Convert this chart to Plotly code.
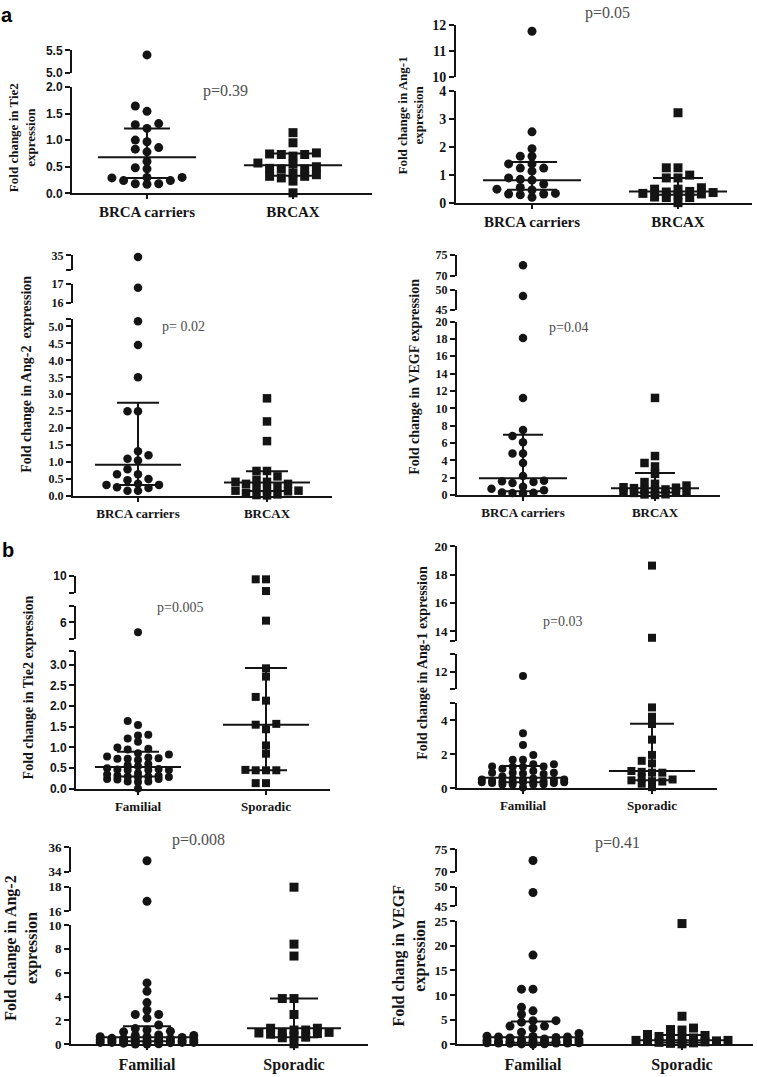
import plotly.graph_objects as go

W, H = 757, 1077

# ---------------- data ----------------
categories_a = ["BRCA carriers", "BRCAX"]
categories_b = ["Familial", "Sporadic"]

tie2_carriers = [5.4, 1.64, 1.54, 1.31, 1.29, 1.22, 1.0, 0.97, 0.86, 0.83, 0.78, 0.6,
                 0.48, 0.46, 0.3, 0.3, 0.29, 0.24, 0.24, 0.18, 0.18, 0.17]
tie2_brcax = [1.14, 0.95, 0.76, 0.74, 0.73, 0.73, 0.7, 0.57, 0.55, 0.5, 0.47, 0.46,
              0.46, 0.38, 0.35, 0.32, 0.32, 0.29, 0.23, 0.01]
ang1_carriers = [11.75, 2.54, 1.94, 1.67, 1.67, 1.4, 1.4, 1.25, 1.25, 1.14, 0.9, 0.85,
                 0.82, 0.68, 0.56, 0.5, 0.47, 0.35, 0.33, 0.33, 0.3, 0.21]
ang1_brcax = [3.22, 1.26, 1.26, 1.0, 0.9, 0.9, 0.55, 0.5, 0.5, 0.42, 0.4, 0.38, 0.35,
              0.33, 0.3, 0.22, 0.2, 0.2, 0.02]
ang2_carriers = [34.9, 16.8, 5.15, 4.45, 3.5, 2.5, 2.5, 1.32, 1.2, 1.1, 1.05, 0.79, 0.64,
                 0.64, 0.5, 0.47, 0.36, 0.33, 0.33, 0.26, 0.24, 0.16, 0.16]
ang2_brcax = [2.88, 2.2, 1.62, 0.74, 0.74, 0.58, 0.48, 0.42, 0.42, 0.36, 0.36, 0.28, 0.28,
              0.18, 0.16, 0.16, 0.14, 0.1, 0.05, 0.03, 0.02]
vegf_carriers = [72.5, 48.5, 18.1, 11.2, 7.5, 6.8, 6.1, 4.8, 4.8, 3.7, 2.2, 1.65, 1.6, 1.5,
                 1.4, 0.95, 0.72, 0.57, 0.3, 0.27, 0.25, 0.2]
vegf_brcax = [11.2, 4.5, 3.7, 3.3, 2.45, 1.5, 1.3, 1.1, 0.9, 0.85, 0.8, 0.65, 0.6, 0.5,
              0.35, 0.3, 0.3, 0.25, 0.1, 0.08, 0.02]

# familial = BRCA carriers + BRCAX
tie2_familial = tie2_carriers + tie2_brcax
ang1_familial = ang1_carriers + ang1_brcax
ang2_familial = ang2_carriers + ang2_brcax
vegf_familial = vegf_carriers + vegf_brcax

tie2_sporadic = [9.8, 9.8, 9.1, 6.1, 2.91, 2.71, 2.22, 2.13, 1.57, 1.55, 1.44, 1.05, 0.85,
                 0.46, 0.45, 0.45, 0.45, 0.14, 0.14]
ang1_sporadic = [18.64, 13.53, 4.75, 4.2, 3.77, 2.85, 1.95, 1.6, 1.45, 1.0, 0.95, 0.9, 0.9,
                 0.6, 0.5, 0.45, 0.4, 0.38, 0.25, 0.05]
ang2_sporadic = [17.95, 8.4, 7.4, 3.84, 3.84, 2.5, 1.35, 1.35, 1.2, 1.2, 1.0, 1.0, 0.95,
                 0.9, 0.85, 0.7, 0.6, 0.55, 0.05]
vegf_sporadic = [24.5, 5.7, 3.3, 3.0, 2.9, 2.0, 1.8, 1.6, 1.3, 1.1, 0.9, 0.8, 0.8, 0.7,
                 0.6, 0.5, 0.4, 0.3, 0.2, 0.1]

# median, 25th and 75th percentile per group
med_a_tie2, q1_a_tie2, q3_a_tie2 = [0.68, 0.53], [0.29, 0.33], [1.22, 0.75]
med_a_ang1, q1_a_ang1, q3_a_ang1 = [0.82, 0.42], [0.48, 0.3], [1.47, 0.9]
med_a_ang2, q1_a_ang2, q3_a_ang2 = [0.92, 0.4], [0.33, 0.15], [2.75, 0.73]
med_a_vegf, q1_a_vegf, q3_a_vegf = [1.95, 0.8], [0.45, 0.3], [6.95, 2.55]
med_b_tie2, q1_b_tie2, q3_b_tie2 = [0.53, 1.55], [0.3, 0.45], [0.9, 2.92]
med_b_ang1, q1_b_ang1, q3_b_ang1 = [0.6, 1.0], [0.33, 0.45], [1.3, 3.78]
med_b_ang2, q1_b_ang2, q3_b_ang2 = [0.6, 1.35], [0.25, 0.6], [1.52, 3.85]
med_b_vegf, q1_b_vegf, q3_b_vegf = [1.45, 0.85], [0.3, 0.35], [4.65, 1.9]

p_values = ["p=0.39", "p=0.05", "p= 0.02", "p=0.04", "p=0.005", "p=0.03", "p=0.008", "p=0.41"]

# tick labels per axis segment (bottom segment first)
ticks_a_tie2 = [["0.0", "0.5", "1.0", "1.5", "2.0"], ["5.0", "5.5"]]
ticks_a_ang1 = [["0", "1", "2", "3", "4"], ["10", "11", "12"]]
ticks_a_ang2 = [["0.0", "0.5", "1.0", "1.5", "2.0", "2.5", "3.0", "3.5", "4.0", "4.5", "5.0"],
                ["16", "17"], ["35"]]
ticks_a_vegf = [["0", "2", "4", "6", "8", "10", "12", "14", "16", "18", "20"], ["45", "50"], ["70", "75"]]
ticks_b_tie2 = [["0.0", "0.5", "1.0", "1.5", "2.0", "2.5", "3.0"], ["6"], ["10"]]
ticks_b_ang1 = [["0", "2", "4"], ["12"], ["14", "16", "18", "20"]]
ticks_b_ang2 = [["0", "2", "4", "6", "8", "10"], ["16", "18"], ["34", "36"]]
ticks_b_vegf = [["0", "5", "10", "15", "20", "25"], ["45", "50"], ["70", "75"]]

y_titles = ["Fold change in Tie2<br>expression", "Fold change in Ang-1<br>expression",
            "Fold change in Ang-2  expression", "Fold change in VEGF expression",
            "Fold change in Tie2 expression", "Fold change in Ang-1 expression",
            "Fold change in Ang-2<br>expression", "Fold chang in VEGF<br>expression"]

# ---------------- layout (pixel geometry) ----------------
SERIF = "Liberation Serif, Times New Roman, serif"
SANS = "Liberation Sans, Arial, sans-serif"
INK = "#141414"

panels = [
    dict(cats=categories_a, groups=[tie2_carriers, tie2_brcax], med=med_a_tie2, q1=q1_a_tie2, q3=q3_a_tie2,
         ticks=ticks_a_tie2, x0=72, x1=372, cx=[147, 293],
         segs=[(0, 2.0, 81, 189), (5.0, 5.5, 44, 67)],
         tfont=(SANS, 12), xfont=15, title=y_titles[0], txy=(22, 133), tsize=13,
         p=p_values[0], pxy=(225, 85), psize=16, ms=9, step=11.7, maxc=[3, 3], mhw=49, chw=23),
    dict(cats=categories_a, groups=[ang1_carriers, ang1_brcax], med=med_a_ang1, q1=q1_a_ang1, q3=q3_a_ang1,
         ticks=ticks_a_ang1, x0=456, x1=752, cx=[532, 678],
         segs=[(0, 4, 85, 199), (10, 12, 18, 71)],
         tfont=(SERIF, 14), xfont=15, title=y_titles[1], txy=(411, 110), tsize=13,
         p=p_values[1], pxy=(607, 6), psize=16, ms=9, step=11.7, maxc=[3, 3], mhw=49, chw=25),
    dict(cats=categories_a, groups=[ang2_carriers, ang2_brcax], med=med_a_ang2, q1=q1_a_ang2, q3=q3_a_ang2,
         ticks=ticks_a_ang2, x0=73, x1=332, cx=[138, 267],
         segs=[(0, 5.23, 316, 496), (16, 17, 281, 300), (34, 35, 252, 267)],
         tfont=(SERIF, 12), xfont=13, title=y_titles[2], txy=(27, 373), tsize=14,
         p=p_values[2], pxy=(183, 324), psize=14, ms=8.5, step=10.5, maxc=[3, 3], mhw=43, chw=21),
    dict(cats=categories_a, groups=[vegf_carriers, vegf_brcax], med=med_a_vegf, q1=q1_a_vegf, q3=q3_a_vegf,
         ticks=ticks_a_vegf, x0=457, x1=720, cx=[523, 655],
         segs=[(0, 20, 319, 495), (45, 50, 287, 307), (70, 75, 251, 273)],
         tfont=(SERIF, 12), xfont=13, title=y_titles[3], txy=(415, 375), tsize=14,
         p=p_values[3], pxy=(568, 325), psize=14, ms=8.5, step=10.5, maxc=[3, 3], mhw=44, chw=20),
    dict(cats=categories_b, groups=[tie2_familial, tie2_sporadic], med=med_b_tie2, q1=q1_b_tie2, q3=q3_b_tie2,
         ticks=ticks_b_tie2, x0=76, x1=330, cx=[138, 266],
         segs=[(0, 3.33, 653, 793), (5, 7, 607, 641), (9, 10, 577, 594)],
         tfont=(SANS, 12), xfont=13, title=y_titles[4], txy=(28, 690), tsize=14,
         p=p_values[4], pxy=(180, 609), psize=14, ms=8, step=10.3, maxc=[3, 2], mhw=43, chw=21),
    dict(cats=categories_b, groups=[ang1_familial, ang1_sporadic], med=med_b_ang1, q1=q1_b_ang1, q3=q3_b_ang1,
         ticks=ticks_b_ang1, x0=457, x1=717, cx=[523, 652],
         segs=[(0, 5, 706, 792), (11, 13, 656, 692), (13.3, 20, 547, 643)],
         tfont=(SERIF, 13), xfont=13, title=y_titles[5], txy=(423, 665), tsize=14,
         p=p_values[5], pxy=(562, 623), psize=14, ms=8, step=10.3, maxc=[4, 3], mhw=43, chw=22),
    dict(cats=categories_b, groups=[ang2_familial, ang2_sporadic], med=med_b_ang2, q1=q1_b_ang2, q3=q3_b_ang2,
         ticks=ticks_b_ang2, x0=71, x1=368, cx=[147, 294],
         segs=[(0, 10, 931, 1052), (16, 18, 892, 917), (34, 36, 852, 877)],
         tfont=(SERIF, 13), xfont=16, title=y_titles[6], txy=(22, 955), tsize=16,
         p=p_values[6], pxy=(199, 845), psize=16, ms=9, step=11.7, maxc=[4, 3], mhw=47, chw=24),
    dict(cats=categories_b, groups=[vegf_familial, vegf_sporadic], med=med_b_vegf, q1=q1_b_vegf, q3=q3_b_vegf,
         ticks=ticks_b_vegf, x0=457, x1=753, cx=[533, 682],
         segs=[(0, 25, 927, 1052), (45, 50, 892, 912), (70, 75, 854, 877)],
         tfont=(SERIF, 13), xfont=16, title=y_titles[7], txy=(410, 962), tsize=16,
         p=p_values[7], pxy=(617, 848), psize=16, ms=9, step=11.5, maxc=[4, 4], mhw=45, chw=22),
]
SYMBOLS = ["circle", "square"]


def value_to_px(v, segs):
    for lo, hi, pt, pb in segs:
        if lo - 1e-9 <= v <= hi + 1e-9:
            return pb - (v - lo) / (hi - lo) * (pb - pt)
    return None


def swarm_columns(values, segs, thresh, maxc):
    """Column index for each point: nearest free column, limited to +-maxc."""
    order = sorted(range(len(values)), key=lambda i: values[i])
    cand = [0]
    for j in range(1, maxc + 1):
        cand += [-j, j]
    placed = []
    cols = [0] * len(values)
    for i in order:
        py = value_to_px(values[i], segs)
        best, best_gap = None, -1.0
        for c in cand:
            gaps = [abs(pp - py) for pp, pc in placed if pc == c]
            gap = min(gaps) if gaps else 1e9
            if gap >= thresh:
                best = c
                break
            if gap > best_gap + 1e-9:
                best, best_gap = c, gap
        placed.append((py, best))
        cols[i] = best
    return cols


fig = go.Figure()
layout_upd = {}
annotations = []
xn = 0
yn = 0
for p in panels:
    xn += 1
    xid = "x" if xn == 1 else f"x{xn}"
    xkey = "xaxis" if xn == 1 else f"xaxis{xn}"
    cx1, cx2 = p["cx"]
    ppu = cx2 - cx1
    yids = []
    for si, (lo, hi, pt, pb) in enumerate(p["segs"]):
        yn += 1
        yid = "y" if yn == 1 else f"y{yn}"
        ykey = "yaxis" if yn == 1 else f"yaxis{yn}"
        yids.append(yid)
        labels = p["ticks"][si]
        vals = [float(t) for t in labels]
        tv, tt = list(vals), list(labels)
        for end in (lo, hi):
            if all(abs(end - v) > 1e-6 for v in vals):
                tv.append(end)
                tt.append("")
        eps = (hi - lo) * 1e-4
        layout_upd[ykey] = dict(
            domain=[1 - pb / H, 1 - pt / H], range=[lo - eps, hi + eps], anchor=xid,
            showline=True, linewidth=2, linecolor=INK, ticks="outside", ticklen=5,
            tickwidth=2, tickcolor=INK, tickvals=tv, ticktext=tt, showgrid=False,
            zeroline=False, tickfont=dict(family=p["tfont"][0], size=p["tfont"][1],
                                          color=INK, weight="bold"), fixedrange=True)
    layout_upd[xkey] = dict(
        domain=[p["x0"] / W, p["x1"] / W],
        range=[(p["x0"] - cx1) / ppu, (p["x1"] - cx1) / ppu], anchor=yids[0],
        showline=True, linewidth=2, linecolor=INK, ticks="outside", ticklen=4,
        tickwidth=2, tickcolor=INK, tickvals=[0, 1], ticktext=p["cats"], showgrid=False,
        zeroline=False, tickfont=dict(family=SERIF, size=p["xfont"], color=INK, weight="bold"),
        fixedrange=True)

    for gi, vals in enumerate(p["groups"]):
        cols = swarm_columns(vals, p["segs"], p["ms"] * 0.75, p["maxc"][gi])
        for si, (lo, hi, pt, pb) in enumerate(p["segs"]):
            xs, ys = [], []
            for v, c in zip(vals, cols):
                if lo - 1e-9 <= v <= hi + 1e-9:
                    xs.append(gi + c * p["step"] / ppu)
                    ys.append(v)
            if xs:
                fig.add_trace(go.Scatter(
                    x=xs, y=ys, xaxis=xid, yaxis=yids[si], mode="markers", cliponaxis=False,
                    marker=dict(symbol=SYMBOLS[gi], size=p["ms"], color=INK,
                                line=dict(width=0)), showlegend=False, hoverinfo="y"))
        # median line and interquartile range
        mh = p["mhw"] / ppu
        ch = p["chw"] / ppu
        m, a, b = p["med"][gi], p["q1"][gi], p["q3"][gi]
        line = dict(color=INK, width=2)
        fig.add_trace(go.Scatter(x=[gi - mh, gi + mh], y=[m, m], xaxis=xid, yaxis=yids[0],
                                 mode="lines", line=line, showlegend=False, hoverinfo="skip",
                                 cliponaxis=False))
        fig.add_trace(go.Scatter(x=[gi, gi, None, gi - ch, gi + ch, None, gi - ch, gi + ch],
                                 y=[a, b, None, a, a, None, b, b], xaxis=xid, yaxis=yids[0],
                                 mode="lines", line=line, showlegend=False, hoverinfo="skip",
                                 cliponaxis=False))

    tx, ty = p["txy"]
    annotations.append(dict(text=p["title"], x=tx / W, y=1 - ty / H, xref="paper", yref="paper",
                            textangle=-90, showarrow=False, xanchor="center", yanchor="middle",
                            font=dict(family=SERIF, size=p["tsize"], color=INK, weight="bold")))
    px_, py_ = p["pxy"]
    annotations.append(dict(text=p["p"], x=px_ / W, y=1 - py_ / H, xref="paper", yref="paper",
                            showarrow=False, xanchor="center", yanchor="middle",
                            font=dict(family=SERIF, size=p["psize"], color="#4d4d4d")))

annotations.append(dict(text="a", x=7 / W, y=1 - 8 / H, xref="paper", yref="paper", showarrow=False,
                        xanchor="center", yanchor="middle",
                        font=dict(family=SANS, size=20, color="#000000", weight="bold")))
annotations.append(dict(text="b", x=8 / W, y=1 - 551 / H, xref="paper", yref="paper", showarrow=False,
                        xanchor="center", yanchor="middle",
                        font=dict(family=SANS, size=20, color="#000000", weight="bold")))

fig.update_layout(width=W, height=H, autosize=False, margin=dict(l=0, r=0, t=0, b=0, pad=0),
                  paper_bgcolor="white", plot_bgcolor="white", showlegend=False,
                  annotations=annotations, **layout_upd)

fig.write_html("out.html", config={"displayModeBar": False, "staticPlot": True},
               post_script="document.body.style.margin='0';"
                           "document.body.style.overflow='hidden';")
